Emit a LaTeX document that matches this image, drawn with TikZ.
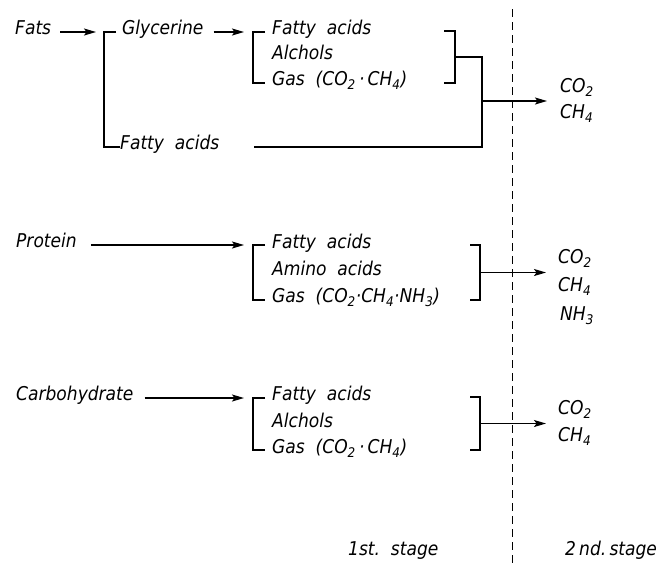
\documentclass[tikz,border=0pt]{standalone}
\usepackage{fontspec}
\setmainfont{DejaVu Sans Condensed}
\usepackage{tikz}
\usetikzlibrary{arrows.meta,calc}
\newcommand{\gasA}{Gas\ \ (CO\textsubscript{2}\,·\,CH\textsubscript{4})}
\newcommand{\gasB}{Gas\ \ (CO\textsubscript{2}·CH\textsubscript{4}·NH\textsubscript{3})}
\newcommand{\facid}{Fatty\ \ acids}

\begin{document}
\begin{tikzpicture}[
  x=1pt, y=-1pt,
  font=\fontsize{19}{22}\selectfont\itshape,
  lbl/.style={inner sep=0pt, anchor=mid west},
  flow/.style={-{Stealth[length=12pt,width=7pt,inset=2.5pt]}, line width=1.3pt},
  brk/.style={line width=1.3pt},
  stageline/.style={line width=0.9pt, dash pattern=on 8pt off 5pt}
]
\useasboundingbox (0,0) rectangle (661,566);

% ---- fats -----------------------------------------------------------------
\node[lbl] (fats)    at (15,32)   {Fats};
\node[lbl] (glyc)    at (122,32)  {Glycerine};
\node[lbl] (fatacid) at (120,147) {\facid};
\node[lbl] (fa1)     at (272,32)  {\facid};
\node[lbl] (al1)     at (272,57)  {Alchols};
\node[lbl] (gas1)    at (272,83)  {\gasA};
\node[lbl] (co2a)    at (560,90)  {CO\textsubscript{2}};
\node[lbl] (ch4a)    at (560,116) {CH\textsubscript{4}};

\coordinate (b1t) at (104,32);  \coordinate (b1b) at (104,147);
\coordinate (b2t) at (253,32);  \coordinate (b2b) at (253,83);
\coordinate (r1t) at (455,31);  \coordinate (r1b) at (455,83);
\coordinate (j1)  at (482,101);

\draw[brk] ($(b1t)+(12,0)$) -- (b1t) -- (b1b) -- (fatacid.mid west);
\draw[brk] ($(b2t)+(12,0)$) -- (b2t) -- (b2b) -- ++(12,0);
\draw[brk] ($(r1t)+(-11,0)$) -- (r1t) -- (r1b) -- ++(-11,0);
\draw[flow, shorten <=9pt, shorten >=8pt] (fats.mid east) -- (b1t);
\draw[flow, shorten <=10pt, shorten >=9pt] (glyc.mid east) -- (b2t);
\draw[brk] ($(r1t)!0.5!(r1b)$) -| (j1);
\draw[brk] (fatacid.mid east) ++(35,0) -| (j1);
\draw[flow, shorten >=13pt] (j1) -- (j1 -| co2a.west);

% ---- protein --------------------------------------------------------------
\node[lbl] (prot) at (16,245)  {Protein};
\node[lbl] (fa2)  at (272,246) {\facid};
\node[lbl] (am2)  at (272,273) {Amino\ \ acids};
\node[lbl] (gas2) at (272,300) {\gasB};
\node[lbl] (co2b) at (558,261) {CO\textsubscript{2}};
\node[lbl] (ch4b) at (558,289) {CH\textsubscript{4}};
\node[lbl] (nh3b) at (560,318) {NH\textsubscript{3}};

\coordinate (b3t) at (253,245); \coordinate (b3b) at (253,300);
\coordinate (r2t) at (480,245); \coordinate (r2b) at (480,300);
\coordinate (j2)  at ($(r2t)!0.5!(r2b)$);

\draw[brk] ($(b3t)+(12,0)$) -- (b3t) -- (b3b) -- ++(12,0);
\draw[brk] ($(r2t)+(-10,0)$) -- (r2t) -- (r2b) -- ++(-10,0);
\draw[flow, shorten <=14pt, shorten >=9pt] (prot.mid east) -- (b3t);
\draw[flow, shorten >=12pt] (j2) -- (j2 -| co2b.west);

% ---- carbohydrate ---------------------------------------------------------
\node[lbl] (carb) at (16,398)  {Carbohydrate};
\node[lbl] (fa3)  at (272,398) {\facid};
\node[lbl] (al3)  at (272,425) {Alchols};
\node[lbl] (gas3) at (272,451) {\gasA};
\node[lbl] (co2c) at (558,412) {CO\textsubscript{2}};
\node[lbl] (ch4c) at (558,439) {CH\textsubscript{4}};

\coordinate (b4t) at (253,398); \coordinate (b4b) at (253,450);
\coordinate (r3t) at (480,397); \coordinate (r3b) at (480,450);
\coordinate (j3)  at ($(r3t)!0.5!(r3b)$);

\draw[brk] ($(b4t)+(12,0)$) -- (b4t) -- (b4b) -- ++(12,0);
\draw[brk] ($(r3t)+(-10,0)$) -- (r3t) -- (r3b) -- ++(-10,0);
\draw[flow, shorten <=11pt, shorten >=9pt] (carb.mid east) -- (b4t);
\draw[flow, shorten >=12pt] (j3) -- (j3 -| co2c.west);

% ---- stages ---------------------------------------------------------------
\draw[stageline] (512,9) -- (512,566);
\node[lbl] (st1) at (348,553) {1st.\ \ stage};
\node[lbl] (st2) at (565,553) {2\,nd.\,stage};

\end{tikzpicture}
\end{document}
